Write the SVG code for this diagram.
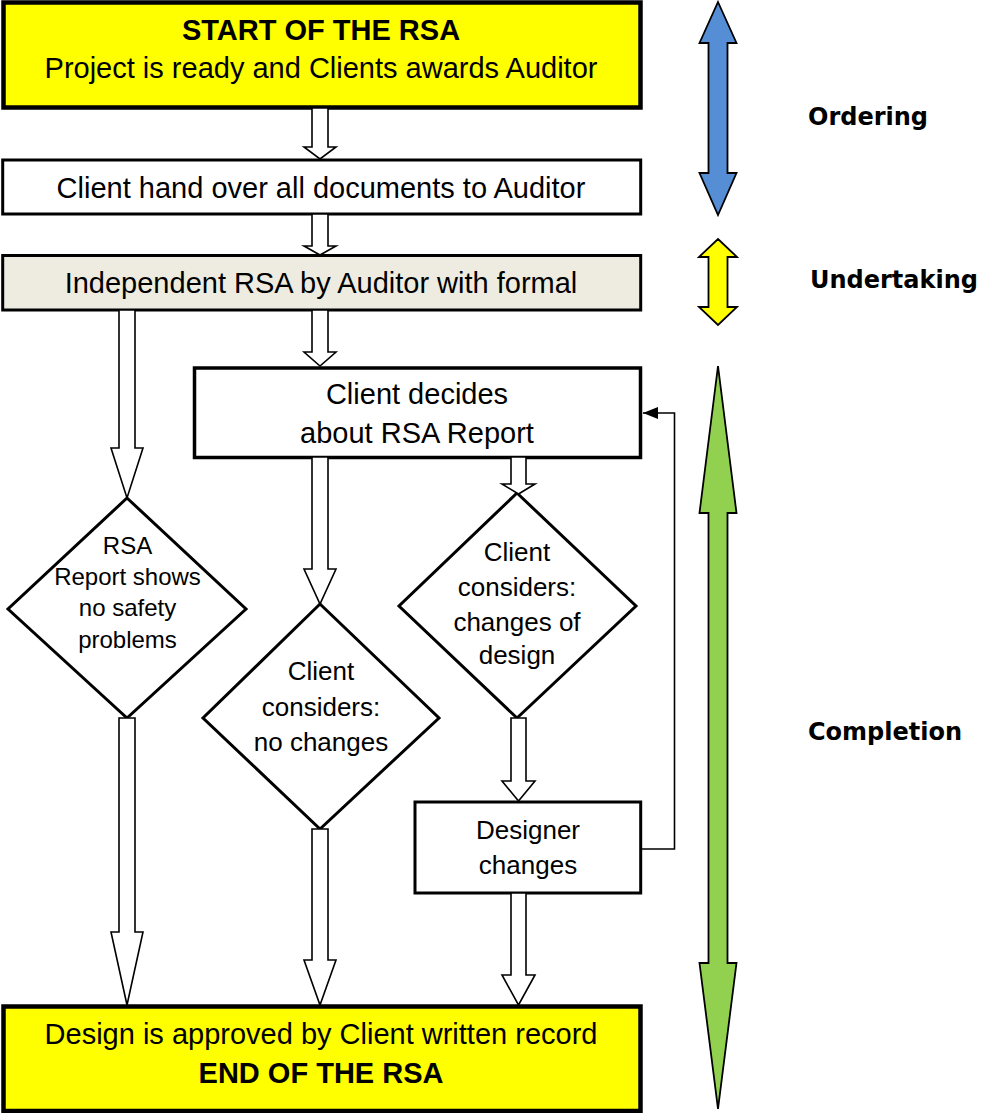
<svg xmlns="http://www.w3.org/2000/svg" width="981" height="1113" viewBox="0 0 981 1113">
  <defs>
    <marker id="tri" markerWidth="16" markerHeight="12" refX="15" refY="6" orient="auto" markerUnits="userSpaceOnUse">
      <path d="M0,0 L15,6 L0,12 Z" fill="#000"/>
    </marker>
  </defs>
  <style>
    text { font-family: "Liberation Sans", Arial, sans-serif; fill: #000; }
    .t29 { font-size: 29px; text-anchor: middle; }
    .b29 { font-size: 29px; font-weight: bold; text-anchor: middle; }
    .t26 { font-size: 26px; text-anchor: middle; }
    .t24 { font-size: 24px; text-anchor: middle; }
    .lbl { font-family: "DejaVu Sans", Verdana, sans-serif; font-size: 24px; font-weight: bold; }
    .yel { fill: #FFFF00; stroke: #000; stroke-width: 4.5; }
    .box { fill: #FFFFFF; stroke: #000; stroke-width: 3; }
    .tan { fill: #EEECE1; stroke: #000; stroke-width: 3; }
    .dia { fill: #FFFFFF; stroke: #000; stroke-width: 3; stroke-linejoin: miter; }
    .blk { fill: #FFFFFF; stroke: #000; stroke-width: 1.6; stroke-linejoin: miter; }
    .fb { fill: none; stroke: #000; stroke-width: 1.6; }
    .dbl { stroke: #000; stroke-width: 1.8; stroke-linejoin: miter; }
  </style>

  <g id="start">
    <rect class="yel" x="3.5" y="2.5" width="637" height="105"/>
    <text class="b29" x="321" y="40">START OF THE RSA</text>
    <text class="t29" x="321" y="78">Project is ready and Clients awards Auditor</text>
  </g>

  <g id="handover">
    <rect class="box" x="2.7" y="160" width="638" height="54"/>
    <text class="t29" x="321" y="198">Client hand over all documents to Auditor</text>
  </g>

  <g id="independent">
    <rect class="tan" x="2.7" y="255.5" width="638" height="54.5"/>
    <text class="t29" x="321" y="293">Independent RSA by Auditor with formal</text>
  </g>

  <g id="decides">
    <rect class="box" x="194.5" y="368" width="446" height="89.5" style="stroke-width:3.5"/>
    <text class="t29" x="417" y="404">Client decides</text>
    <text class="t29" x="417" y="443">about RSA Report</text>
  </g>

  <g id="noproblems">
    <polygon class="dia" points="127,498 246,609 127,718 8,609"/>
    <text class="t24" x="127.5" y="554">RSA</text>
    <text class="t24" x="127.5" y="585">Report shows</text>
    <text class="t24" x="127.5" y="616">no safety</text>
    <text class="t24" x="127.5" y="648">problems</text>
  </g>

  <g id="nochanges">
    <polygon class="dia" points="320,604 439,718 320,829 203,718"/>
    <text class="t26" x="321" y="680">Client</text>
    <text class="t26" x="321" y="715.5">considers:</text>
    <text class="t26" x="321" y="751">no changes</text>
  </g>

  <g id="changes">
    <polygon class="dia" points="517,493 636,606 517,718 399,606"/>
    <text class="t26" x="517" y="561">Client</text>
    <text class="t26" x="517" y="596">considers:</text>
    <text class="t26" x="517" y="631">changes of</text>
    <text class="t26" x="517" y="664">design</text>
  </g>

  <g id="designer">
    <rect class="box" x="415" y="802" width="225.7" height="91"/>
    <text class="t26" x="528" y="839">Designer</text>
    <text class="t26" x="528" y="874">changes</text>
  </g>

  <g id="end">
    <rect class="yel" x="3.5" y="1006.5" width="637" height="104.5"/>
    <text class="t29" x="321" y="1044">Design is approved by Client written record</text>
    <text class="b29" x="321" y="1083">END OF THE RSA</text>
  </g>

  <g id="connectors">
    <!-- hollow block arrows -->
    <polygon class="blk" points="312,108 328,108 328,147 336,147 320,159 304,147 312,147"/>
    <polygon class="blk" points="312,214 328,214 328,246 336,246 320,255 304,246 312,246"/>
    <polygon class="blk" points="312,310 328,310 328,352 336,352 320,366 304,352 312,352"/>
    <polygon class="blk" points="119,310 135,310 135,448 143,448 127,498 111,448 119,448"/>
    <polygon class="blk" points="312,457 328,457 328,569 336,569 320,604 304,569 312,569"/>
    <polygon class="blk" points="511,457 526,457 526,484 535,484 518.5,494 502,484 511,484"/>
    <polygon class="blk" points="511,718 526,718 526,781 535,781 518.5,801 502,781 511,781"/>
    <polygon class="blk" points="119,718 135,718 135,932 143,932 127,1005 111,932 119,932"/>
    <polygon class="blk" points="312,829 328,829 328,960 336,960 320,1005 304,960 312,960"/>
    <polygon class="blk" points="511,893 526,893 526,975 535,975 518.5,1005 502,975 511,975"/>
    <!-- feedback loop -->
    <polyline class="fb" points="641,849 674.5,849 674.5,413 643,413" marker-end="url(#tri)"/>
  </g>

  <g id="phase-ordering">
    <polygon class="dbl" fill="#558ED5" points="718,2 736.5,43 727.5,43 727.5,173 736.5,173 718,215 699.5,173 708.5,173 708.5,43 699.5,43"/>
    <text class="lbl" x="808" y="125">Ordering</text>
  </g>

  <g id="phase-undertaking">
    <polygon class="dbl" fill="#FFFF00" points="718,239 737,257 727.5,257 727.5,307 737,307 718,325 699,307 708.5,307 708.5,257 699,257"/>
    <text class="lbl" x="810" y="288">Undertaking</text>
  </g>

  <g id="phase-completion">
    <polygon class="dbl" fill="#92D050" points="718,366 736.5,513 727.5,513 727.5,963 736.5,963 718,1109 699.5,963 708.5,963 708.5,513 699.5,513"/>
    <text class="lbl" x="808" y="740">Completion</text>
  </g>
</svg>
